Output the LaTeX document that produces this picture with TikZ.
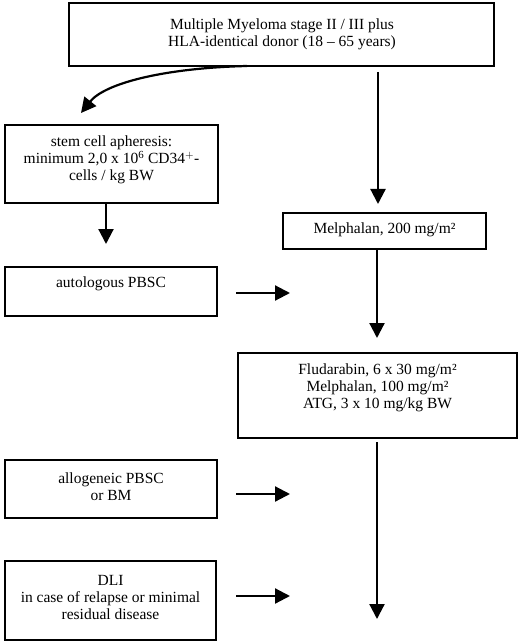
\documentclass[tikz,border=0pt]{standalone}
\usepackage{fontspec}
\setmainfont{Liberation Serif}
\usetikzlibrary{arrows.meta}
\begin{document}
\begin{tikzpicture}[x=1pt,y=-1pt,
  box/.style={draw, line width=2.6pt, inner sep=0pt},
  txt/.style={align=center, inner sep=0pt, font=\fontsize{15.5}{17}\selectfont},
  arr/.style={line width=2.2pt, -{Triangle[length=15pt,width=15pt]}}]
\useasboundingbox (0,0) rectangle (520,644);
% boxes
\node[box, minimum width=425, minimum height=63] (top) at (281.5,34.5) {};
\node[txt] (topt) at (282,34) {Multiple Myeloma stage II / III plus\\HLA-identical donor (18 -- 65 years)};
\node[box, minimum width=213, minimum height=78] (stem) at (111.5,164) {};
\node[txt] (stemt) at (111.5,160) {stem cell apheresis:\\minimum 2,0 x 10$^{\mathrm{6}}$ CD34$^{\mathrm{+}}$-\\cells / kg BW};
\node[box, minimum width=203, minimum height=36] (mel) at (384.5,231) {};
\node[txt] (melt) at (384.5,230) {Melphalan, 200 mg/m²};
\node[box, minimum width=212, minimum height=49] (auto) at (111,291.5) {};
\node[txt] (autot) at (111,284) {autologous PBSC};
\node[box, minimum width=279, minimum height=85] (flu) at (377.5,395.5) {};
\node[txt] (flut) at (377.5,388) {Fludarabin, 6 x 30 mg/m²\\Melphalan, 100 mg/m²\\ATG, 3 x 10 mg/kg BW};
\node[box, minimum width=212, minimum height=58] (allo) at (111,489) {};
\node[txt] (allot) at (111,487) {allogeneic PBSC\\or BM};
\node[box, minimum width=211, minimum height=79] (dli) at (110.5,600.5) {};
\node[txt] (dlit) at (110.5,597) {DLI\\in case of relapse or minimal\\residual disease};
% connector end points
\coordinate (c1s) at (247,66);
\coordinate (c1e) at (81,113);
\coordinate (a1s) at (378,72);
\coordinate (a1e) at (378,204);
\coordinate (a2s) at (106,203);
\coordinate (a2e) at (106,244);
\coordinate (a3s) at (377,249);
\coordinate (a3e) at (377,338);
\coordinate (a4s) at (377,442);
\coordinate (a4e) at (377,619);
\coordinate (h1s) at (236,293);
\coordinate (h1e) at (290,293);
\coordinate (h2s) at (236,494);
\coordinate (h2e) at (290,494);
\coordinate (h3s) at (236,596);
\coordinate (h3e) at (290,596);
% connectors
\draw[arr] (c1s) .. controls (165,68) and (105,83) .. (c1e);
\draw[arr] (a1s) -- (a1e);
\draw[arr] (a2s) -- (a2e);
\draw[arr] (a3s) -- (a3e);
\draw[arr] (a4s) -- (a4e);
\draw[arr] (h1s) -- (h1e);
\draw[arr] (h2s) -- (h2e);
\draw[arr] (h3s) -- (h3e);
\end{tikzpicture}
\end{document}
